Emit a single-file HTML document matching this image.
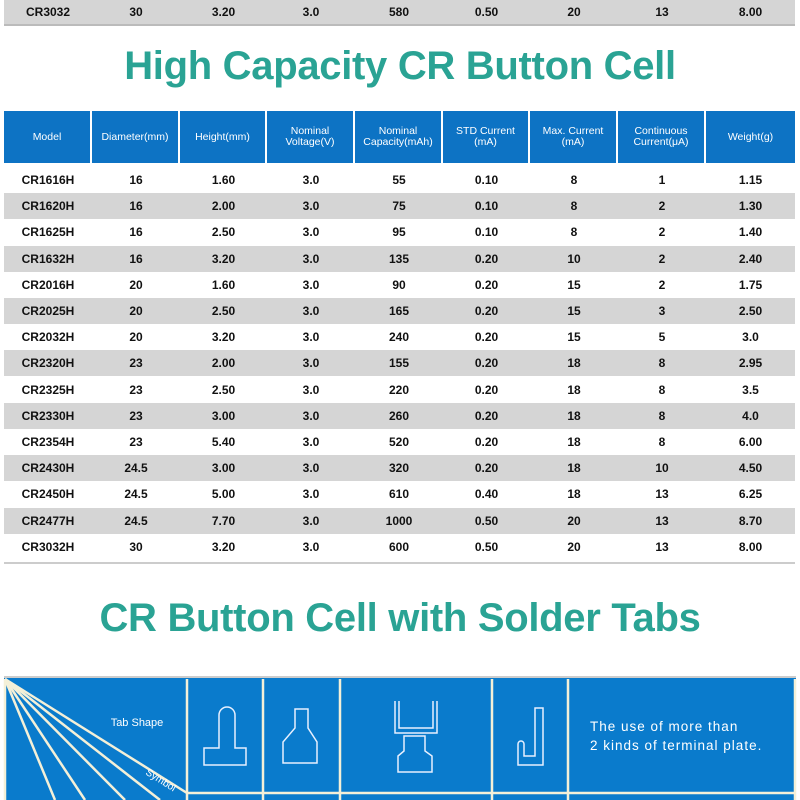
<!DOCTYPE html>
<html><head><meta charset="utf-8"><style>
body{margin:0;width:800px;height:800px;overflow:hidden;background:#fff;font-family:"Liberation Sans",sans-serif;position:relative}
.row{position:absolute;left:4px;width:791px;height:26px;display:flex;align-items:center;font-weight:bold;font-size:12px;color:#111}
.row span{text-align:center}
.g{background:#d5d5d5}
.title{position:absolute;left:0;width:800px;text-align:center;color:#2aa394;font-weight:bold;font-size:40px;letter-spacing:-0.3px}
.hdr{position:absolute;left:4px;top:111px;height:52px;width:791px;display:flex}
.hdr div{background:#0d73c4;color:#fff;font-size:10.5px;display:flex;align-items:center;justify-content:center;text-align:center;line-height:11px;margin-right:2px}
</style></head><body>
<div class="row g" style="top:0;height:24px;border-bottom:2px solid #bbb"></div>
<div class="title" style="top:44px">High Capacity CR Button Cell</div>
<div class="hdr">
<div style="width:86px">Model</div><div style="width:86px">Diameter(mm)</div><div style="width:85px">Height(mm)</div><div style="width:86px">Nominal<br>Voltage(V)</div><div style="width:86px">Nominal<br>Capacity(mAh)</div><div style="width:85px">STD Current<br>(mA)</div><div style="width:86px">Max. Current<br>(mA)</div><div style="width:86px">Continuous<br>Current(μA)</div><div style="width:89px;margin:0">Weight(g)</div>
</div>
<div id="rows"></div>
<div style="position:absolute;left:4px;top:562px;width:791px;height:2px;background:#ccc"></div>
<div class="title" style="top:596px">CR Button Cell with Solder Tabs</div>
<svg style="position:absolute;left:0;top:676px" width="800" height="124">
<rect x="4" y="0" width="792" height="124" fill="#0a7bcc"/>
<rect x="4" y="0" width="792" height="2" fill="#ccc"/>
<g stroke="#f4f0d8" stroke-width="2.5" fill="none">
<line x1="5" y1="3" x2="5" y2="124"/>
<line x1="187" y1="3" x2="187" y2="124"/><line x1="263" y1="3" x2="263" y2="124"/><line x1="340" y1="3" x2="340" y2="124"/><line x1="492" y1="3" x2="492" y2="124"/><line x1="568" y1="3" x2="568" y2="124"/><line x1="795" y1="3" x2="795" y2="124"/>
<line x1="187" y1="117" x2="795" y2="117"/>
<line x1="5" y1="3" x2="187" y2="117"/><line x1="5" y1="3" x2="160" y2="124"/><line x1="5" y1="3" x2="125" y2="124"/><line x1="5" y1="3" x2="85" y2="124"/><line x1="5" y1="3" x2="55" y2="124"/>
</g>
<g stroke="#e8f0ff" stroke-width="1.5" fill="none">
<path d="M219 72 V39 a8 8 0 0 1 16 0 V72 H246 V89 H204 V72 Z"/>
<path d="M295 33 H308 V52 L317 66 V87 H283 V66 L295 52 Z"/>
<path d="M395 25 V57 H437 V25 M399 25 V52 H433 V25"/>
<path d="M404 60 H425 V75 L432 80 V96 H398 V80 L404 75 Z"/>
<path d="M535 32 H543 V89 H518 V68 a3 3 0 0 1 6 0 V80 L535 80 Z"/>
</g>
<text x="137" y="50" fill="#fff" font-size="11" font-family="Liberation Sans" text-anchor="middle">Tab Shape</text>
<text x="145" y="98" fill="#fff" font-size="10" font-family="Liberation Sans" transform="rotate(32 145 98)">Symbol</text>
<text x="590" y="55" fill="#fff" font-size="13.5" font-family="Liberation Sans" letter-spacing="1">The use of more than</text>
<text x="590" y="74" fill="#fff" font-size="13.5" font-family="Liberation Sans" letter-spacing="1">2 kinds of terminal plate.</text>
</svg>
<script>
const w=[88,88,87,88,88,87,88,88,89];
const d=[["CR1616H",16,"1.60","3.0",55,"0.10",8,1,"1.15"],["CR1620H",16,"2.00","3.0",75,"0.10",8,2,"1.30"],["CR1625H",16,"2.50","3.0",95,"0.10",8,2,"1.40"],["CR1632H",16,"3.20","3.0",135,"0.20",10,2,"2.40"],["CR2016H",20,"1.60","3.0",90,"0.20",15,2,"1.75"],["CR2025H",20,"2.50","3.0",165,"0.20",15,3,"2.50"],["CR2032H",20,"3.20","3.0",240,"0.20",15,5,"3.0"],["CR2320H",23,"2.00","3.0",155,"0.20",18,8,"2.95"],["CR2325H",23,"2.50","3.0",220,"0.20",18,8,"3.5"],["CR2330H",23,"3.00","3.0",260,"0.20",18,8,"4.0"],["CR2354H",23,"5.40","3.0",520,"0.20",18,8,"6.00"],["CR2430H","24.5","3.00","3.0",320,"0.20",18,10,"4.50"],["CR2450H","24.5","5.00","3.0",610,"0.40",18,13,"6.25"],["CR2477H","24.5","7.70","3.0",1000,"0.50",20,13,"8.70"],["CR3032H",30,"3.20","3.0",600,"0.50",20,13,"8.00"]];
let h='<div class="row g" style="top:0;height:24px"><span style="width:88px">CR3032</span><span style="width:88px">30</span><span style="width:87px">3.20</span><span style="width:88px">3.0</span><span style="width:88px">580</span><span style="width:87px">0.50</span><span style="width:88px">20</span><span style="width:88px">13</span><span style="width:89px">8.00</span></div>';
d.forEach((r,i)=>{h+='<div class="row'+(i%2?' g':'')+'" style="top:'+(167+i*26.2)+'px">'+r.map((c,j)=>'<span style="width:'+w[j]+'px">'+c+'</span>').join('')+'</div>';});
document.getElementById('rows').innerHTML=h;
</script>
</body></html>
